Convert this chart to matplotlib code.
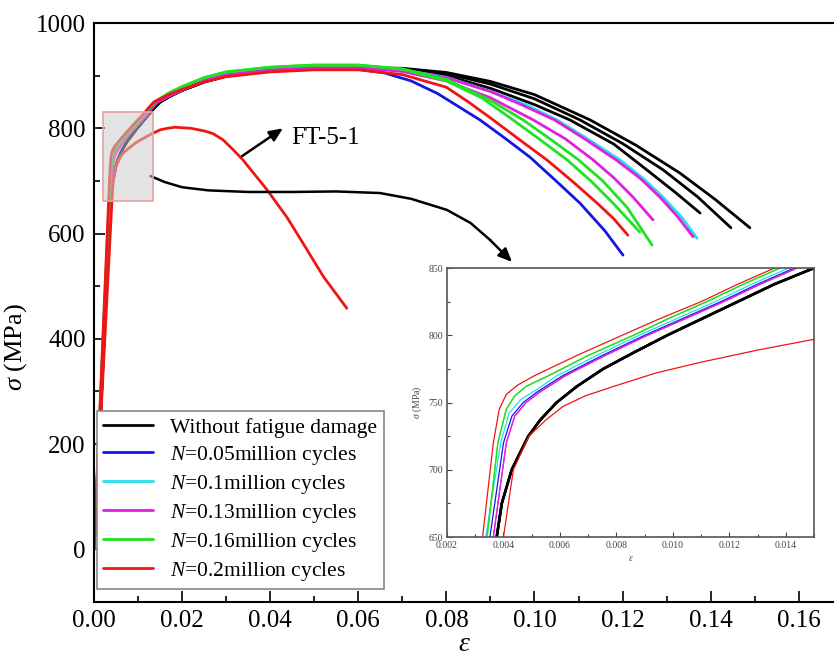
import matplotlib
matplotlib.use("Agg")
import matplotlib.pyplot as plt
from matplotlib.patches import Rectangle
from matplotlib.ticker import MultipleLocator, FormatStrFormatter

plt.rcParams['font.family'] = 'Liberation Serif'
plt.rcParams['mathtext.fontset'] = 'custom'
plt.rcParams['mathtext.rm'] = 'Liberation Serif'
plt.rcParams['mathtext.it'] = 'Liberation Serif:italic'

# ---- data (strain, stress in MPa) ----
# black: without fatigue damage (3 specimens, shared loading branch)
eps_black = [0, 0.00376, 0.00394, 0.00429, 0.00488, 0.0053, 0.00588, 0.0066, 0.00753, 0.0086,
             0.0098, 0.0110, 0.0123, 0.0136, 0.0150, 0.0175, 0.020, 0.025, 0.030, 0.040, 0.050, 0.060]
sig_black = [0, 650, 675, 700, 725, 737, 750, 762, 775, 787,
             800, 812, 825, 838, 850, 862, 872, 888, 899, 909, 914, 915]
eps_black_tails = [[0.070, 0.080, 0.090, 0.100, 0.108, 0.118, 0.1255, 0.132, 0.1376],
                   [0.070, 0.080, 0.090, 0.100, 0.1103, 0.120, 0.1292, 0.137, 0.1446],
                   [0.070, 0.080, 0.090, 0.100, 0.1126, 0.123, 0.133, 0.141, 0.1489]]
sig_black_tails = [[912, 900, 876, 845, 816, 770, 721, 678, 639],
                   [913, 904, 884, 856, 816, 771, 721, 670, 611],
                   [914, 906, 889, 864, 816, 768, 715, 665, 611]]

# blue: N = 0.05 million cycles
eps_blue = [0, 0.00352, 0.0040, 0.0043, 0.0047, 0.0052, 0.0061, 0.0075, 0.0090, 0.0103,
            0.0117, 0.0130, 0.0143, 0.017, 0.020, 0.025, 0.030, 0.040, 0.050, 0.060]
sig_blue = [0, 650, 720, 740, 750, 758, 770, 785, 800, 812,
            825, 838, 850, 862, 873, 889, 900, 909, 913, 912]
eps_blue_tails = [[0.066, 0.072, 0.078, 0.0876, 0.093, 0.099, 0.1045, 0.1103, 0.116, 0.1201]]
sig_blue_tails = [[905, 890, 866, 816, 783, 745, 703, 658, 605, 559]]

# cyan: N = 0.1 million cycles
eps_cyan = [0, 0.00337, 0.0039, 0.0042, 0.0046, 0.0052, 0.0059, 0.0073, 0.0088, 0.0101,
            0.0115, 0.0128, 0.0141, 0.017, 0.020, 0.025, 0.030, 0.040, 0.050, 0.060]
sig_cyan = [0, 650, 720, 742, 752, 760, 770, 785, 800, 812,
            825, 838, 850, 863, 875, 892, 903, 913, 917, 917]
eps_cyan_tails = [[0.070, 0.080, 0.090, 0.098, 0.1051, 0.112, 0.1194, 0.1245, 0.1292, 0.1335, 0.1369]]
sig_cyan_tails = [[911, 897, 870, 845, 816, 780, 740, 706, 669, 630, 591]]

# magenta: N = 0.13 million cycles
eps_mag = [0, 0.00364, 0.0041, 0.0044, 0.0048, 0.0053, 0.0062, 0.0076, 0.0091, 0.0104,
           0.0118, 0.0131, 0.0144, 0.017, 0.020, 0.025, 0.030, 0.040, 0.050, 0.060]
sig_mag = [0, 650, 720, 740, 750, 758, 770, 785, 800, 812,
           825, 838, 850, 861, 873, 890, 901, 911, 915, 915]
eps_mag_tails = [[0.070, 0.080, 0.090, 0.0997, 0.107, 0.1133, 0.118, 0.1224, 0.1269],
                 [0.070, 0.080, 0.090, 0.097, 0.1045, 0.111, 0.1185, 0.124, 0.1285, 0.1325, 0.136]]
sig_mag_tails = [[908, 890, 858, 816, 780, 740, 706, 669, 626],
                 [910, 896, 870, 845, 816, 782, 740, 705, 669, 632, 594]]

# green: N = 0.16 million cycles
eps_green = [0, 0.00342, 0.0038, 0.0041, 0.0044, 0.0048, 0.0056, 0.0070, 0.0086, 0.0098,
             0.0112, 0.0125, 0.0138, 0.017, 0.020, 0.025, 0.030, 0.040, 0.050, 0.060]
sig_green = [0, 650, 720, 745, 755, 762, 770, 785, 800, 812,
             825, 838, 850, 867, 879, 896, 907, 916, 920, 920]
eps_green_tails = [[0.070, 0.080, 0.088, 0.0951, 0.101, 0.1074, 0.1128, 0.1178, 0.1239],
                   [0.070, 0.080, 0.090, 0.0974, 0.104, 0.110, 0.1155, 0.121, 0.1267]]
sig_green_tails = [[912, 890, 858, 816, 780, 740, 700, 658, 603],
                   [913, 893, 853, 816, 777, 740, 700, 650, 578]]

# red: N = 0.2 million cycles
eps_red = [0, 0.00326, 0.00364, 0.00385, 0.0041, 0.0045, 0.0051, 0.0066, 0.0082, 0.0095,
           0.0110, 0.0123, 0.0136, 0.017, 0.020, 0.025, 0.030, 0.040, 0.050, 0.060]
sig_red = [0, 650, 720, 745, 756, 763, 770, 785, 800, 812,
           825, 838, 850, 864, 874, 888, 898, 907, 911, 911]
eps_red_tails = [[0.070, 0.080, 0.085, 0.0906, 0.0965, 0.1028, 0.1085, 0.1142, 0.118, 0.1212]]
sig_red_tails = [[902, 878, 850, 816, 779, 740, 700, 658, 628, 597]]

# FT-5-1 specimen (red, early failure)
eps_ft = [0, 0.0040, 0.00435, 0.0049, 0.0055, 0.0061, 0.0069, 0.0079, 0.0094, 0.0110, 0.0130,
          0.0150, 0.0167, 0.0184, 0.020, 0.022, 0.025, 0.027, 0.0293, 0.0315, 0.0338, 0.0365,
          0.0393, 0.0438, 0.0475, 0.0521, 0.0574]
sig_ft = [0, 650, 700, 725, 737, 747, 755, 762, 772, 780, 789,
          797, 800, 802, 801, 800, 795, 790, 778, 760, 740, 712,
          683, 631, 581, 518, 458]

labels = ['Without fatigue damage', '$N$=0.05million cycles', '$N$=0.1million cycles',
          '$N$=0.13million cycles', '$N$=0.16million cycles', '$N$=0.2million cycles']
colors = ['black', '#1515e6', '#22e0ee', '#e020e0', '#22e022', '#f01515']

groups = [(eps_black, sig_black, eps_black_tails, sig_black_tails),
          (eps_blue, sig_blue, eps_blue_tails, sig_blue_tails),
          (eps_cyan, sig_cyan, eps_cyan_tails, sig_cyan_tails),
          (eps_mag, sig_mag, eps_mag_tails, sig_mag_tails),
          (eps_green, sig_green, eps_green_tails, sig_green_tails),
          (eps_red, sig_red, eps_red_tails, sig_red_tails)]

# annotation path (curved pointer from the FT-5-1 zoom box to the inset)
conn_eps = [0.0129, 0.016, 0.020, 0.026, 0.035, 0.045, 0.055, 0.0649, 0.072, 0.0801, 0.0855, 0.0899]
conn_sig = [709, 698, 688, 682, 679, 679, 680, 677, 666, 645, 620, 588]


def draw_curves(ax, lw, lw_black, with_labels):
    for (pe, ps, tes, tss), lab, c in zip(groups, labels, colors):
        for i, (te, ts) in enumerate(zip(tes, tss)):
            ax.plot(pe + te, ps + ts, color=c, lw=lw_black if c == 'black' else lw,
                    label=lab if (with_labels and i == 0) else None,
                    solid_capstyle='round', solid_joinstyle='round')
    ax.plot(eps_ft, sig_ft, color=colors[-1], lw=lw, solid_capstyle='round', solid_joinstyle='round')


fig = plt.figure(figsize=(8.34, 6.63), dpi=100)
ax = fig.add_axes([0.1127, 0.092, 0.8873, 0.8733])
draw_curves(ax, 2.0, 2.0, True)

ax.set_xlim(0, 0.168)
ax.set_ylim(-100, 1000)
ax.xaxis.set_major_locator(MultipleLocator(0.02))
ax.xaxis.set_minor_locator(MultipleLocator(0.01))
ax.xaxis.set_major_formatter(FormatStrFormatter('%.2f'))
ax.yaxis.set_major_locator(MultipleLocator(200))
ax.yaxis.set_minor_locator(MultipleLocator(100))
ax.tick_params(which='both', direction='in', top=False, right=False, labelsize=18, width=1.2, pad=6)
ax.tick_params(which='major', length=8)
ax.tick_params(which='minor', length=4.5)
ax.spines['right'].set_visible(False)
for s in ['left', 'bottom', 'top']:
    ax.spines[s].set_linewidth(1.5)
ax.set_xlabel(r'$\varepsilon$', fontsize=20, labelpad=0)
ax.set_ylabel(r'$\sigma$ (MPa)', fontsize=19)
ax.yaxis.set_label_coords(-0.088, 0.44)

# zoom box
ax.add_patch(Rectangle((0.002, 662), 0.0113, 168, facecolor=(0.8, 0.8, 0.8, 0.55),
                       edgecolor='#e8a0a0', lw=1.2, zorder=5))

# FT-5-1 marker
ax.annotate('', xy=(0.0429, 800), xytext=(0.0336, 747),
            arrowprops=dict(arrowstyle='-|>,head_length=0.8,head_width=0.35', color='black',
                            lw=1.8, shrinkA=0, shrinkB=0))
ax.text(0.0447, 781, 'FT-5-1', fontsize=18, va='center', ha='left')

# pointer to inset
ax.plot(conn_eps, conn_sig, color='black', lw=1.8, solid_joinstyle='round')
ax.annotate('', xy=(0.0949, 546), xytext=(conn_eps[-1], conn_sig[-1]),
            arrowprops=dict(arrowstyle='-|>,head_length=0.8,head_width=0.35', color='black',
                            lw=1.8, shrinkA=0, shrinkB=0))

leg = ax.legend(loc='lower left', bbox_to_anchor=(0.004, 0.022), borderaxespad=0, fontsize=15.5,
                fancybox=False, edgecolor='#888888', labelspacing=0.28, handlelength=2.3,
                handletextpad=0.8, borderpad=0.3, framealpha=1)
leg.get_frame().set_linewidth(1.2)

# inset
axi = fig.add_axes([0.536, 0.190, 0.440, 0.4057])
draw_curves(axi, 0.9, 1.8, False)
axi.set_xlim(0.002, 0.015)
axi.set_ylim(650, 850)
axi.xaxis.set_major_locator(MultipleLocator(0.002))
axi.xaxis.set_minor_locator(MultipleLocator(0.001))
axi.xaxis.set_major_formatter(FormatStrFormatter('%.3f'))
axi.yaxis.set_major_locator(MultipleLocator(50))
axi.yaxis.set_minor_locator(MultipleLocator(25))
axi.tick_params(which='both', direction='in', labelsize=7, labelcolor='#444444', color='#444444',
                width=0.8, pad=3)
axi.tick_params(which='major', length=3.5)
axi.tick_params(which='minor', length=2)
for s in axi.spines.values():
    s.set_color('#555555')
    s.set_linewidth(1.2)
axi.set_xlabel(r'$\varepsilon$', fontsize=7, color='#444444', labelpad=3)
axi.set_ylabel(r'$\sigma$ (MPa)', fontsize=7, color='#444444', labelpad=3)

fig.savefig('out.png', dpi=100)
